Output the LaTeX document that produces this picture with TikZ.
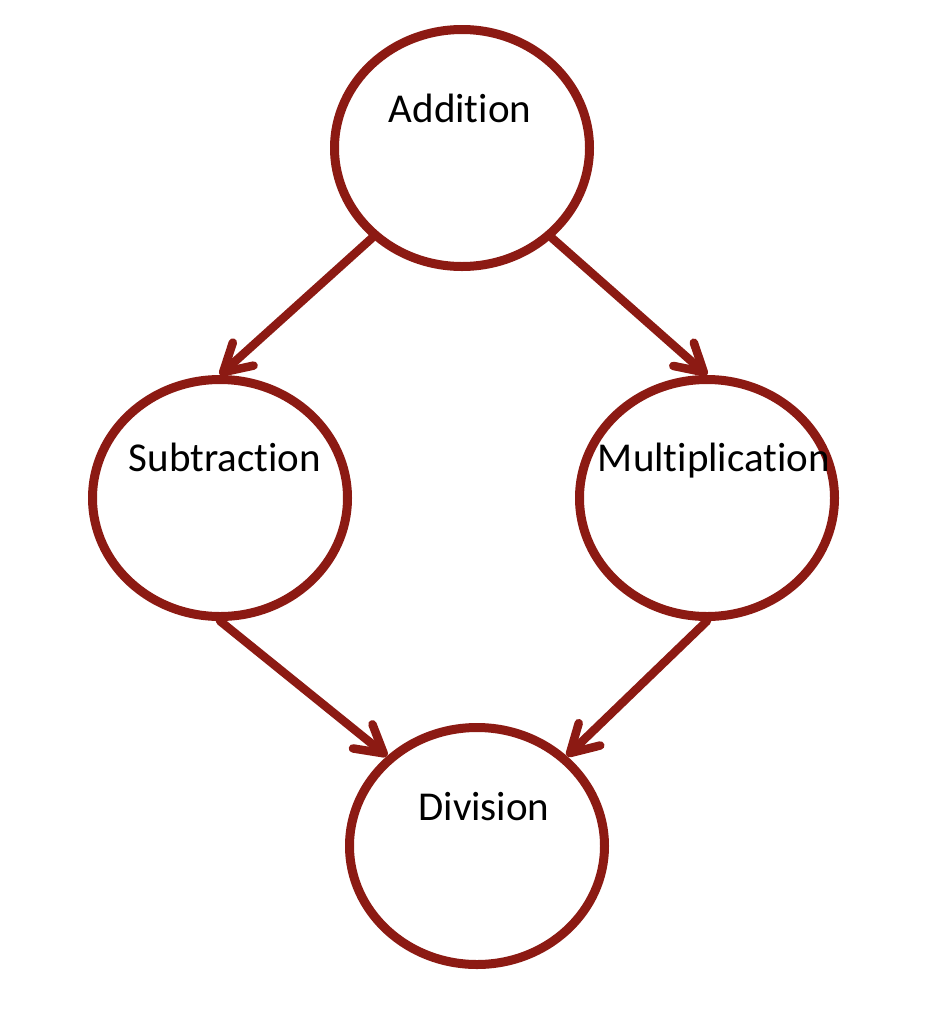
\documentclass[tikz,border=0pt]{standalone}
\usepackage{fontspec}
\setmainfont{Carlito}[Ligatures={NoCommon,NoRare}]
\usetikzlibrary{shapes.geometric,arrows.meta}
\definecolor{dred}{HTML}{8C1A13}
\begin{document}
\begin{tikzpicture}[x=1pt,y=-1pt,
  opnode/.style={ellipse,draw=dred,line width=9pt,minimum width=255pt,minimum height=237pt,inner sep=0pt},
  optext/.style={font=\fontsize{41}{48}\selectfont,anchor=base,inner sep=0pt},
  link/.style={draw=dred,line width=8.5pt,line cap=round,line join=round,
    -{Straight Barb[length=27pt,width=31pt,round]}}]
\useasboundingbox (0,0) rectangle (952,1034);
\node[opnode] (add) at (462,148) {};
\node[opnode] (sub) at (220,498) {};
\node[opnode] (mul) at (707,498) {};
\node[opnode] (div) at (477,846) {};
\node[optext] (addt) at (460,122) {Addition};
\node[optext] (subt) at (225,471) {Subtraction};
\node[optext] (mult) at (714,471) {Multiplication};
\node[optext] (divt) at (484,820) {Division};
\draw[link] (add.-135) -- (sub.north);
\draw[link] (add.-45) -- (mul.north);
\draw[link] (sub.south) -- (div.135);
\draw[link] (mul.south) -- (div.45);
\end{tikzpicture}
\end{document}
